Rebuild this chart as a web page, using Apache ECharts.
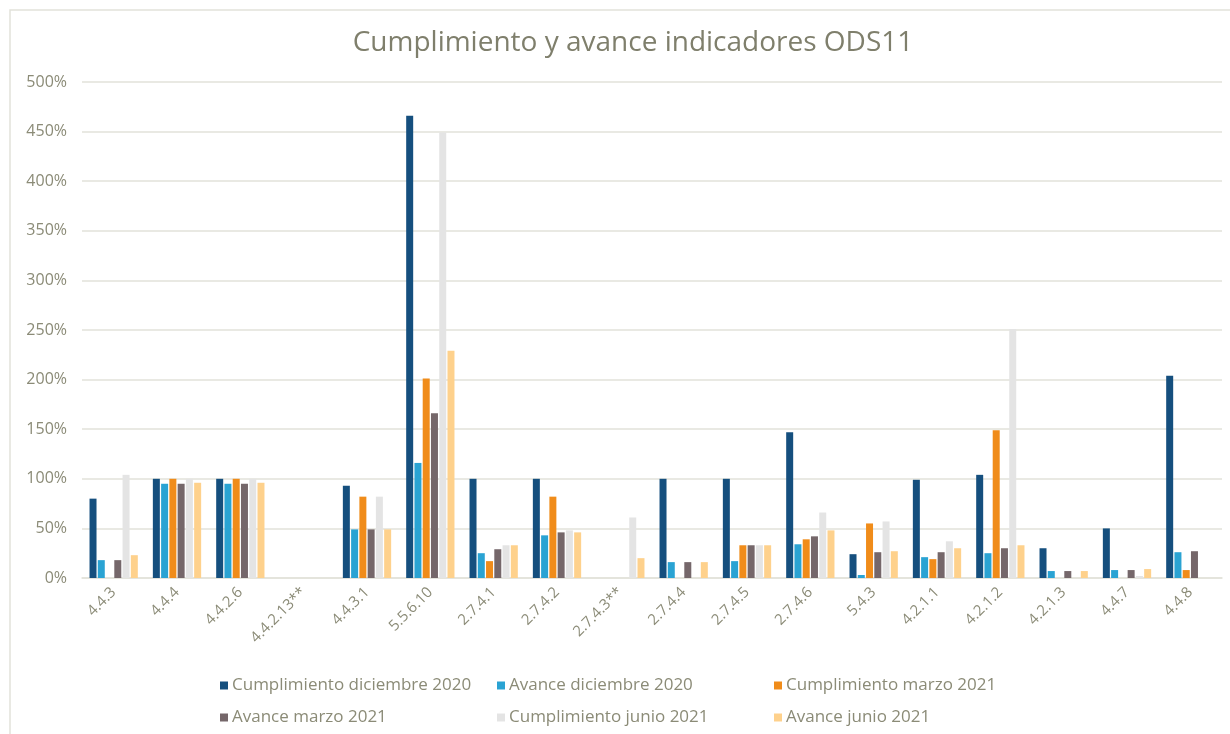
<!DOCTYPE html>
<html>
<head>
    <meta charset="utf-8">
    <title>Cumplimiento y avance indicadores ODS11</title>
    <script src="https://cdn.jsdelivr.net/npm/echarts@6/dist/echarts.min.js"></script>
    <style>
        html, body { margin: 0; padding: 0; background: #fff; }
        #main { width: 1230px; height: 734px; }
    </style>
</head>
<body>
    <div id="main"></div>
    <script>
        // indicadores
        var categorias = ['4.4.3', '4.4.4', '4.4.2.6', '4.4.2.13**', '4.4.3.1', '5.5.6.10', '2.7.4.1', '2.7.4.2', '2.7.4.3**',
            '2.7.4.4', '2.7.4.5', '2.7.4.6', '5.4.3', '4.2.1.1', '4.2.1.2', '4.2.1.3', '4.4.7', '4.4.8'];

        // valores en %
        var cumplimientoDic2020 = [80, 100, 100, null, 93, 466, 100, 100, null, 100, 100, 147, 24, 99, 104, 30, 50, 204];
        var avanceDic2020 = [18, 95, 95, null, 49, 116, 25, 43, null, 16, 17, 34, 3, 21, 25, 7, 8, 26];
        var cumplimientoMar2021 = [null, 100, 100, null, 82, 201, 17, 82, null, null, 33, 39, 55, 19, 149, null, null, 8];
        var avanceMar2021 = [18, 95, 95, null, 49, 166, 29, 46, null, 16, 33, 42, 26, 26, 30, 7, 8, 27];
        var cumplimientoJun2021 = [104, 100, 100, null, 82, 449, 33, 48, 61, null, 33, 66, 57, 37, 251, null, 2, null];
        var avanceJun2021 = [23, 96, 96, null, 49, 229, 33, 46, 20, 16, 33, 48, 27, 30, 33, 7, 9, null];

        var ejeY = { min: 0, max: 500, interval: 50 };

        var series = [
            { name: 'Cumplimiento diciembre 2020', data: cumplimientoDic2020, color: '#154f7e' },
            { name: 'Avance diciembre 2020', data: avanceDic2020, color: '#2aa3d3' },
            { name: 'Cumplimiento marzo 2021', data: cumplimientoMar2021, color: '#f08c1a' },
            { name: 'Avance marzo 2021', data: avanceMar2021, color: '#75676a' },
            { name: 'Cumplimiento junio 2021', data: cumplimientoJun2021, color: '#e4e4e4' },
            { name: 'Avance junio 2021', data: avanceJun2021, color: '#fed18c' }
        ];

        var fuente = '"Open Sans", "Noto Sans", sans-serif';
        var gris = '#8b8b77';

        var myChart = echarts.init(document.getElementById('main'));

        // una leyenda por item: 3 columnas x 2 filas
        var columnas = [215, 492, 769];
        var filas = [672, 704];
        var leyendas = series.map(function (s, i) {
            return {
                left: columnas[i % 3],
                top: filas[Math.floor(i / 3)],
                itemWidth: 8,
                itemHeight: 8,
                itemGap: 0,
                icon: 'rect',
                data: [s.name],
                textStyle: { color: gris, fontFamily: fuente, fontSize: 17, padding: [0, 0, 0, -1] }
            };
        });

        var option = {
            backgroundColor: '#fff',
            title: {
                text: 'Cumplimiento y avance indicadores ODS11',
                left: 628,
                textAlign: 'center',
                top: 24,
                textStyle: { color: '#7f7f6c', fontFamily: fuente, fontWeight: 'normal', fontSize: 28 }
            },
            graphic: [{
                type: 'rect',
                shape: { x: 10, y: 10, width: 1240, height: 740 },
                style: { fill: 'none', stroke: '#e2e2da', lineWidth: 1.5 },
                silent: true
            }],
            legend: leyendas,
            grid: { left: 82, right: 8, top: 82, bottom: 156 },
            xAxis: {
                type: 'category',
                data: categorias,
                axisLine: { lineStyle: { color: '#e2e2da', width: 1.5 } },
                axisTick: { show: false },
                axisLabel: { rotate: 45, color: gris, fontFamily: fuente, fontSize: 15, margin: 12, interval: 0 }
            },
            yAxis: {
                type: 'value',
                min: ejeY.min,
                max: ejeY.max,
                interval: ejeY.interval,
                axisLine: { show: false },
                axisTick: { show: false },
                splitLine: { lineStyle: { color: '#e2e2da', width: 1.5 } },
                axisLabel: { formatter: '{value}%', color: gris, fontFamily: fuente, fontSize: 16, margin: 15 }
            },
            series: series.map(function (s) {
                return {
                    name: s.name,
                    type: 'bar',
                    data: s.data,
                    barWidth: 7,
                    barGap: '18%',
                    itemStyle: { color: s.color },
                    emphasis: { disabled: true }
                };
            })
        };

        option && myChart.setOption(option);
    </script>
</body>
</html>
